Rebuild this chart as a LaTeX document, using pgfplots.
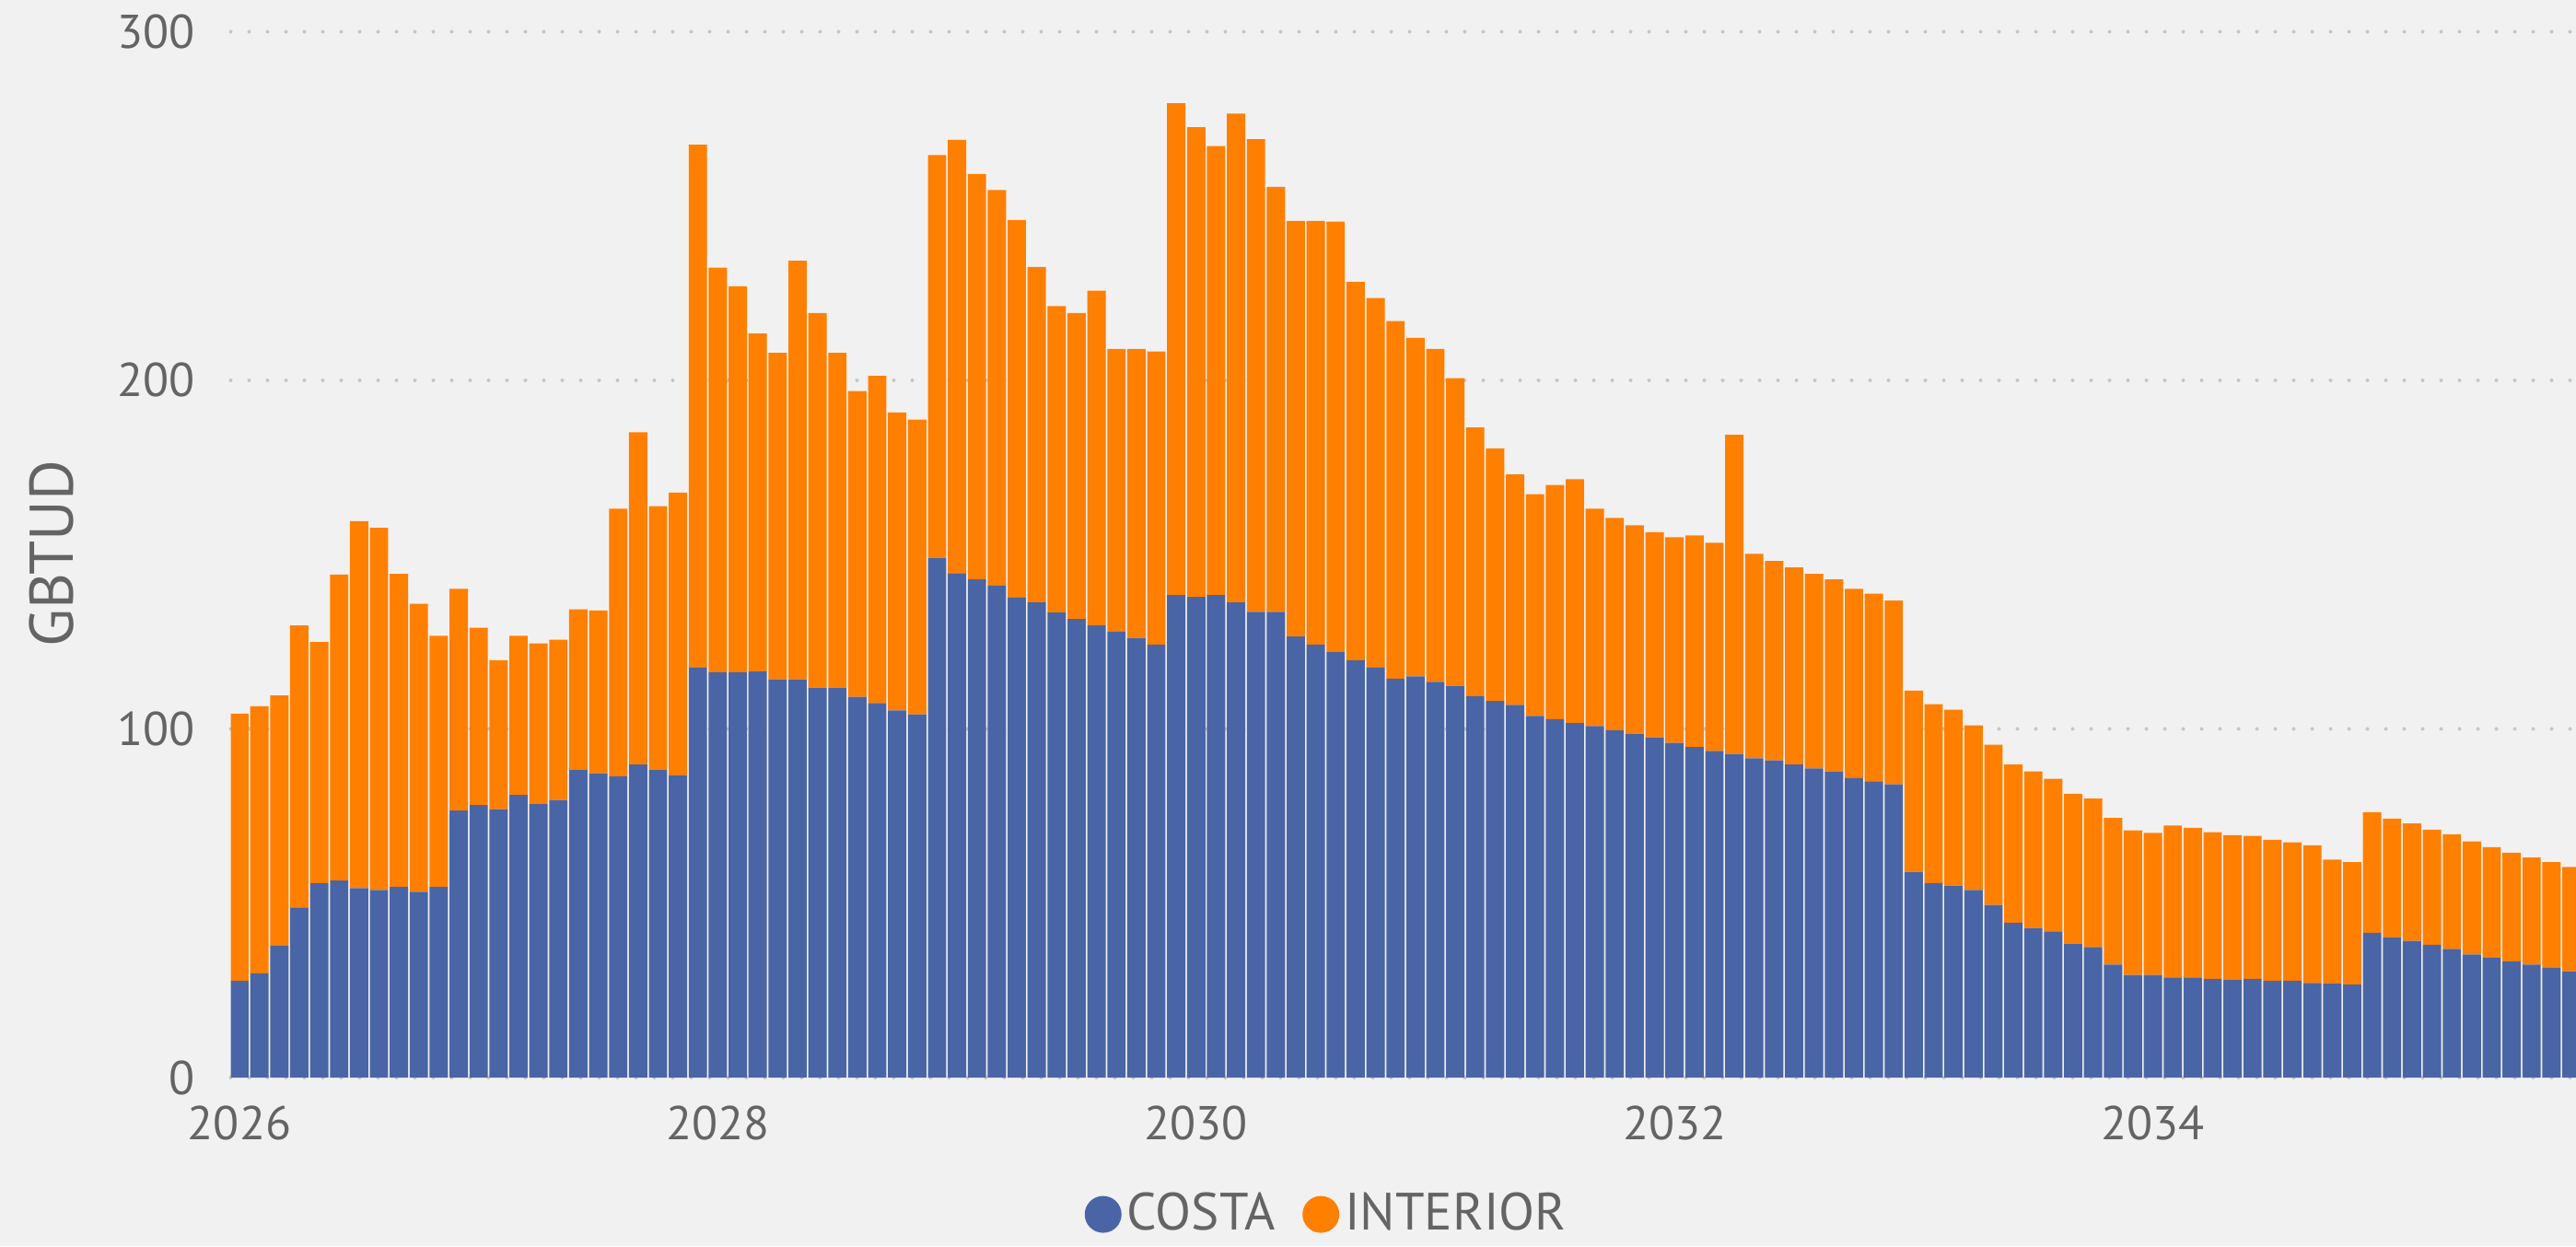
\documentclass[border=0pt]{standalone}
\usepackage{pgfplots}
\pgfplotsset{compat=1.18}
\usepackage{pgfplotstable}
\usepackage{fontspec}
\setmainfont{PT Sans}
\definecolor{bgc}{RGB}{241,241,241}
\definecolor{costa}{RGB}{73,101,165}
\definecolor{interior}{RGB}{255,127,0}
\definecolor{txt}{RGB}{100,100,100}
\definecolor{gridc}{RGB}{198,198,198}

\pgfplotstableread{
x costa interior
0 27.8 76.6
1 29.9 76.6
2 37.8 71.8
3 48.8 80.9
4 55.8 69.1
5 56.5 87.8
6 54.3 105.3
7 53.8 103.9
8 54.7 89.8
9 53.3 82.6
10 54.7 72.0
11 76.6 63.6
12 78.2 50.8
13 77.0 42.7
14 81.1 45.6
15 78.4 46.1
16 79.6 46.0
17 88.2 46.1
18 87.3 46.7
19 86.4 76.8
20 89.8 95.3
21 88.2 75.7
22 86.6 81.2
23 117.6 150.0
24 116.3 116.0
25 116.3 110.7
26 116.5 96.9
27 114.2 93.7
28 114.2 120.1
29 111.7 107.6
30 111.7 96.2
31 109.2 87.7
32 107.4 93.9
33 105.3 85.5
34 104.2 84.5
35 149.1 115.5
36 144.7 124.3
37 142.9 116.3
38 141.1 113.5
39 137.7 108.3
40 136.3 96.2
41 133.4 87.9
42 131.5 87.8
43 129.7 96.0
44 127.9 81.1
45 126.1 82.9
46 124.2 84.1
47 138.4 141.1
48 137.9 134.7
49 138.4 128.8
50 136.3 140.2
51 133.6 135.6
52 133.6 121.9
53 126.5 119.2
54 124.2 121.5
55 122.0 123.5
56 119.7 108.5
57 117.6 106.0
58 114.4 102.6
59 115.1 97.1
60 113.5 95.5
61 112.4 88.2
62 109.4 77.1
63 108.0 72.5
64 106.9 66.1
65 103.7 63.6
66 102.8 67.2
67 101.7 69.9
68 100.8 62.4
69 99.6 60.9
70 98.5 59.9
71 97.6 58.8
72 96.0 59.0
73 94.8 60.7
74 93.7 59.7
75 92.8 91.6
76 91.6 58.6
77 91.0 57.2
78 89.8 56.5
79 88.7 55.8
80 87.8 55.1
81 85.9 54.3
82 85.0 53.8
83 84.1 52.7
84 59.0 52.0
85 55.8 51.3
86 54.9 50.6
87 53.8 47.2
88 49.5 46.0
89 44.4 45.4
90 42.9 44.9
91 41.9 43.8
92 38.3 43.1
93 37.4 42.6
94 32.4 42.1
95 29.4 41.5
96 29.4 40.8
97 28.7 43.6
98 28.7 42.9
99 28.3 42.1
100 28.0 41.5
101 28.3 41.0
102 27.8 40.4
103 27.8 39.7
104 27.1 39.5
105 26.9 35.6
106 26.7 35.1
107 41.5 34.6
108 40.1 34.2
109 39.2 33.7
110 38.1 33.0
111 36.9 32.9
112 35.3 32.4
113 34.4 31.7
114 33.3 31.2
115 32.4 30.7
116 31.5 30.3
117 30.5 29.9
}\datatable

\begin{document}
\begin{tikzpicture}
\fill[bgc, use as bounding box] (0,0) rectangle (559.4pt,270.6pt);
\begin{axis}[
  at={(50.1pt,36.6pt)}, anchor=south west,
  scale only axis, width=509.3pt, height=234pt,
  xmin=-0.44, xmax=117.23, ymin=0, ymax=309.1,
  ybar stacked, bar width=0.92,
  axis line style={draw=none},
  xtick={0,24,48,72,96}, xticklabels={2026,2028,2030,2032,2034},
  ytick={0,100,200,300},
  major tick length=0pt,
  /pgf/number format/assume math mode=true,
  ymajorgrids,
  grid style={gridc, line width=0.8pt, line cap=round, dash pattern=on 0pt off 4pt},
  tick label style={font=\fontsize{10.3}{12}\selectfont, text=txt},
  yticklabel style={xshift=-4.3pt},
  xticklabel style={yshift=-2.6pt},
  ylabel={GBTUD},
  ylabel style={at={(axis description cs:-0.0764,0.486)}, anchor=center, font=\fontsize{13.4}{16}\selectfont, text=txt},
  legend columns=2,
  legend style={at={(0.468,-0.127)}, anchor=center, draw=none, fill=none,
    font=\fontsize{11.4}{14}\selectfont, text=txt,
    nodes={inner sep=1.2pt},
    /tikz/every even column/.append style={column sep=4.6pt}},
  legend image code/.code={\fill[#1] (4pt,0pt) circle (4pt);},
]
\addplot[fill=costa, draw=none] table[x=x,y=costa]{\datatable};
\addplot[fill=interior, draw=none] table[x=x,y=interior]{\datatable};
\legend{COSTA,INTERIOR}
\end{axis}
\end{tikzpicture}
\end{document}
